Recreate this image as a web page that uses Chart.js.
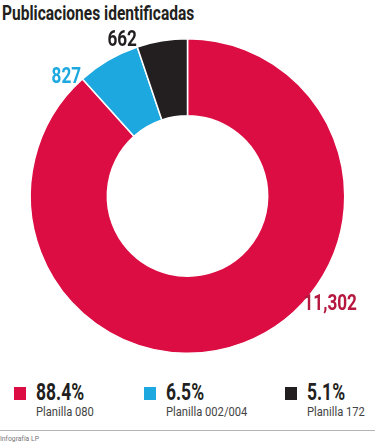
<!DOCTYPE html>
<html lang="es">
  <head>
    <meta charset="UTF-8" />
    <title>Publicaciones identificadas</title>
    <script src="https://cdn.jsdelivr.net/npm/chart.js"></script>
    <style>
      body {
        margin: 0;
        width: 375px;
        height: 446px;
        background: #fff;
        font-family: "Roboto", sans-serif;
        position: relative;
        overflow: hidden;
      }
      h1 {
        position: absolute;
        left: 2px;
        top: 1px;
        margin: 0;
        font-size: 21px;
        font-weight: bold;
        color: #231f20;
        white-space: nowrap;
        transform: scaleX(0.74);
        transform-origin: left top;
      }
      .chart-box {
        position: absolute;
        left: 0;
        top: 0;
        width: 375px;
        height: 362px;
      }
      .legend {
        position: absolute;
        top: 381px;
        left: 0;
        width: 375px;
      }
      .item {
        position: absolute;
        top: 0;
      }
      .sw {
        position: absolute;
        left: 0;
        top: 6px;
        width: 12px;
        height: 13px;
      }
      .pct {
        position: absolute;
        left: 22px;
        top: 0;
        font-size: 23px;
        font-weight: bold;
        color: #231f20;
        white-space: nowrap;
        line-height: 23px;
        transform: scaleX(0.76);
        transform-origin: left top;
      }
      .name {
        position: absolute;
        left: 22px;
        top: 23px;
        font-size: 13px;
        color: #444;
        white-space: nowrap;
        transform: scaleX(0.86);
        transform-origin: left top;
      }
      .rule {
        position: absolute;
        left: 0;
        top: 430px;
        width: 375px;
        height: 1px;
        background: #b5b5b5;
      }
      .credit {
        position: absolute;
        left: 0;
        top: 434px;
        font-size: 8px;
        color: #777;
        transform: scaleX(0.85);
        transform-origin: left top;
      }
    </style>
  </head>
  <body>
    <h1>Publicaciones identificadas</h1>
    <div class="chart-box"><canvas id="donut"></canvas></div>
    <div class="legend" id="legend"></div>
    <div class="rule"></div>
    <div class="credit">Infografía LP</div>

    <script>
      const categories = ["Planilla 080", "Planilla 002/004", "Planilla 172"];
      const counts = [11302, 827, 662];
      const percents = ["88.4%", "6.5%", "5.1%"];
      const valueLabels = ["11,302", "827", "662"];
      const colors = ["#dc0d43", "#1ea8e0", "#231f20"];
      const labelColors = ["#b5173f", "#1ea8e0", "#231f20"];
      const legendLeft = [14, 144, 285];

      // legend
      const legend = document.getElementById("legend");
      categories.forEach((c, i) => {
        const d = document.createElement("div");
        d.className = "item";
        d.style.left = legendLeft[i] + "px";
        d.innerHTML =
          '<div class="sw" style="background:' + colors[i] + '"></div>' +
          '<div class="pct">' + percents[i] + "</div>" +
          '<div class="name">' + c + "</div>";
        legend.appendChild(d);
      });

      // etiquetas fuera del anillo (texto estrecho con scaleX)
      const outsideLabels = {
        id: "outsideLabels",
        afterDatasetsDraw(chart) {
          const ctx = chart.ctx;
          const meta = chart.getDatasetMeta(0);
          meta.data.forEach((arc, i) => {
            const p = arc.getProps(["x", "y", "startAngle", "endAngle", "outerRadius"], true);
            let ang, r;
            ctx.save();
            ctx.font = "bold 22px Roboto, sans-serif";
            ctx.fillStyle = labelColors[i];
            if (i === 0) {
              ang = p.startAngle + (p.endAngle - p.startAngle) * 0.4;
              r = p.outerRadius + 22;
              ctx.textAlign = "center";
              ctx.textBaseline = "middle";
            } else if (i === 1) {
              ang = p.startAngle;
              r = p.outerRadius + 2;
              ctx.textAlign = "right";
              ctx.textBaseline = "middle";
            } else {
              ang = p.startAngle;
              r = p.outerRadius + 1;
              ctx.textAlign = "right";
              ctx.textBaseline = "alphabetic";
            }
            const x = p.x + Math.cos(ang) * r;
            const y = p.y + Math.sin(ang) * r;
            ctx.translate(x, y);
            ctx.scale(0.78, 1);
            ctx.fillText(valueLabels[i], 0, 0);
            ctx.restore();
          });
        },
      };

      new Chart(document.getElementById("donut"), {
        type: "doughnut",
        data: {
          labels: categories,
          datasets: [
            {
              data: counts,
              backgroundColor: colors,
              borderColor: "#ffffff",
              borderWidth: 1.5,
            },
          ],
        },
        options: {
          responsive: true,
          maintainAspectRatio: false,
          animation: false,
          cutout: "51%",
          layout: { padding: { top: 38, bottom: 8, left: 8, right: 8 } },
          plugins: {
            legend: { display: false },
            tooltip: { enabled: false },
          },
        },
        plugins: [outsideLabels],
      });
    </script>
  </body>
</html>
